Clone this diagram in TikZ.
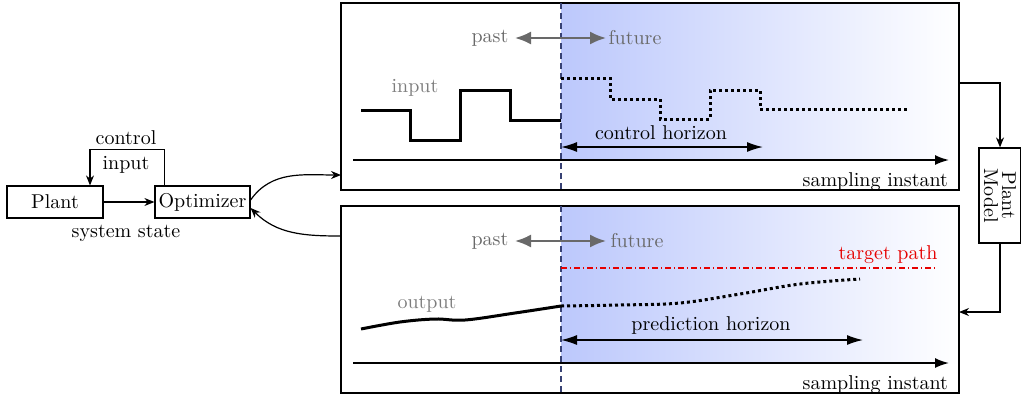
\documentclass[tikz,border=0pt]{standalone}
\usetikzlibrary{arrows.meta,calc}
\definecolor{shadeblue}{RGB}{188,200,252}
\definecolor{dashblue}{RGB}{55,65,115}
\definecolor{lbl}{RGB}{125,125,125}
\definecolor{pf}{RGB}{105,105,105}
\definecolor{tgt}{RGB}{230,0,0}
\tikzset{
  box/.style={draw,line width=0.6pt,inner sep=0pt},
  panel/.style={draw,line width=0.6pt,inner sep=0pt,minimum width=309pt,minimum height=93.5pt},
  conn/.style={line width=0.6pt,-{Stealth[length=5pt,width=4pt]}},
  pfarrow/.style={pf,line width=1pt,{Latex[length=8pt,width=6.5pt]}-{Latex[length=8pt,width=6.5pt]}},
  horarrow/.style={line width=0.7pt,{Latex[length=8pt,width=5pt]}-{Latex[length=8pt,width=5pt]}},
  axis/.style={line width=0.9pt,-{Latex[length=7pt,width=5pt]}},
  sig/.style={line width=1.5pt},
  fut/.style={line width=1.5pt,dash pattern=on 1.5pt off 1.5pt},
  glabel/.style={text=lbl},
  pflabel/.style={text=pf},
}
\begin{document}
\begin{tikzpicture}[x=0.5pt,y=-0.5pt]
\useasboundingbox (0,0) rectangle (1021,397);
% shading
\shade[left color=shadeblue,right color=white] (561,3) rectangle (959,160);
\shade[left color=shadeblue,right color=white] (561,206) rectangle (959,363);
% panels
\node[panel] (top) at (650,96.5) {};
\node[panel] (bot) at (650,299.5) {};
% left blocks
\node[box,minimum width=48pt,minimum height=16pt] (plant) at (55,202) {Plant};
\node[box,minimum width=47.5pt,minimum height=16pt] (opt) at (202.5,202) {Optimizer};
\node (sys) at (126,233) {system state};
\node (ctl) at (126,138) {control};
\node (inp) at (126,165) {input};
\draw[conn] (plant) -- (opt);
\draw[conn] ([xshift=5pt]opt.north west) -- ++(0,-36) -| ([xshift=17.5pt]plant.north);
% plant model
\node[box,rotate=-90,minimum width=47.5pt,minimum height=21pt,align=center] (pm) at (1000,195.5) {Plant\\[-3pt]Model};
\coordinate (topin) at (341,175);
\coordinate (botout) at (341,236);
\draw[conn] ([yshift=1pt]opt.east) to[out=55,in=180] (topin);
\draw[conn] (botout) to[out=180,in=-45] ([yshift=-3pt]opt.east);
\coordinate (topout) at (959,83);
\coordinate (botin) at (959,312);
\draw[conn] (topout) -| (pm.west);
\draw[conn] (pm.east) |- (botin);
% dashed dividers
\draw[dashblue,densely dashed,line width=0.6pt] (561,3) -- (561,190);
\draw[dashblue,densely dashed,line width=0.6pt] (561,206) -- (561,393);
% ---- top panel
\node[pflabel] (past1) at (490,38) {past};
\node[pflabel] (fut1) at (635,38) {future};
\coordinate (pa1) at (515,38);
\coordinate (fa1) at (606,38);
\draw[pfarrow] (pa1) -- (fa1);
\node[glabel] (inlab) at (415,88) {input};
\draw[sig] (361,110) -- (410,110) -- (410,140) -- (460,140) -- (460,90) -- (510,90) -- (510,120) -- (561,120);
\draw[fut] (561,78) -- (610,78) -- (610,99) -- (660,99) -- (660,119) -- (710,119) -- (710,90) -- (760,90) -- (760,109) -- (910,109);
\coordinate (ch1) at (561,147);
\coordinate (ch2) at (763,147);
\draw[horarrow] (ch1) -- (ch2);
\node (chl) at (661,133) {control horizon};
\coordinate (ax1a) at (353,160);
\coordinate (ax1b) at (949,160);
\draw[axis] (ax1a) -- (ax1b);
\node[anchor=base east] (si1) at (955,186) {sampling instant};
% ---- bottom panel
\node[pflabel] (past2) at (490,241) {past};
\node[pflabel] (fut2) at (637,241) {future};
\coordinate (pa2) at (515,241);
\coordinate (fa2) at (606,241);
\draw[pfarrow] (pa2) -- (fa2);
\draw[tgt,line width=0.8pt,dash pattern=on 3pt off 1.4pt on 0.7pt off 1.4pt] (561,268) -- (935,268);
\node[text=tgt] (tp) at (888,255) {target path};
\node[glabel] (outlab) at (427,304) {output};
\draw[sig] plot[smooth,tension=0.6] coordinates {(361,329) (400,322) (435,319) (465,320) (515,313) (561,306)};
\draw[fut] plot[smooth,tension=0.6] coordinates {(561,306) (620,305) (680,303) (740,294) (800,284) (860,279)};
\coordinate (ph1) at (561,340);
\coordinate (ph2) at (863,340);
\draw[horarrow] (ph1) -- (ph2);
\node (phl) at (711,325) {prediction horizon};
\coordinate (ax2a) at (353,363);
\coordinate (ax2b) at (949,363);
\draw[axis] (ax2a) -- (ax2b);
\node[anchor=base east] (si2) at (955,389) {sampling instant};
\end{tikzpicture}
\end{document}
